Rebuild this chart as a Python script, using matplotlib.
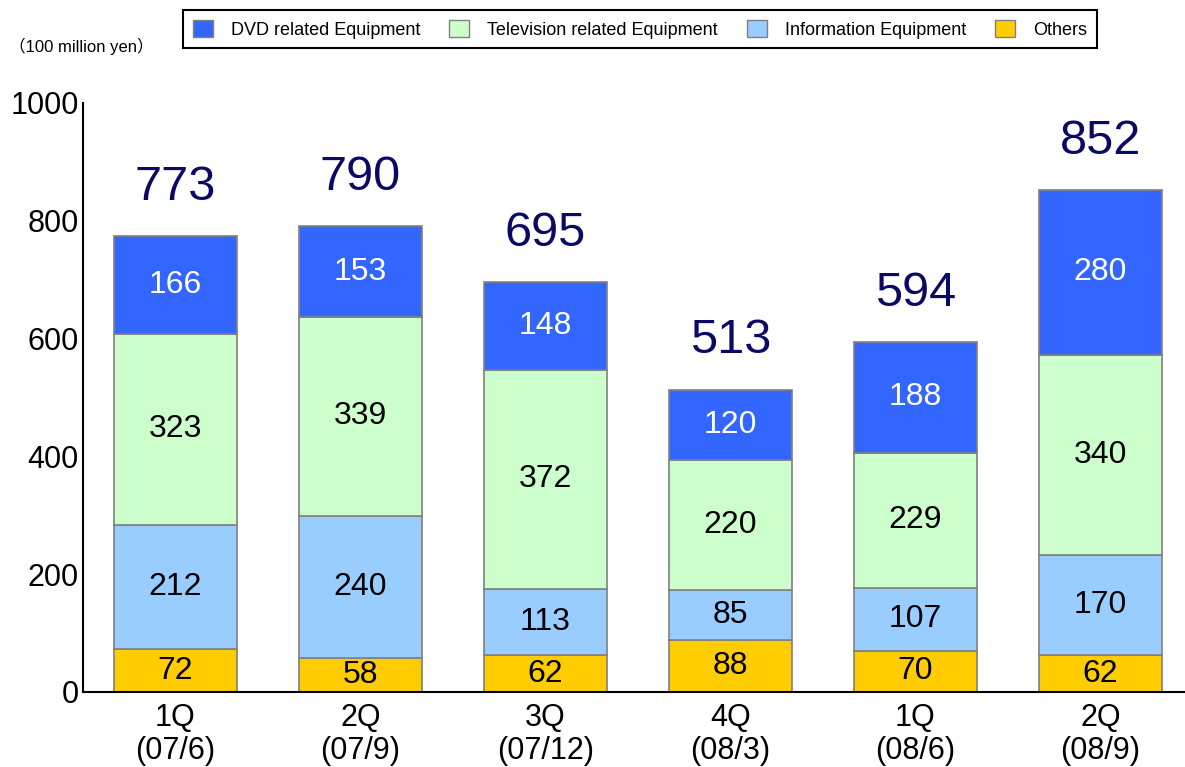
import matplotlib.pyplot as plt
import numpy as np
from matplotlib.patches import Patch

quarters = ['1Q\n(07/6)', '2Q\n(07/9)', '3Q\n(07/12)', '4Q\n(08/3)', '1Q\n(08/6)', '2Q\n(08/9)']
others = [72, 58, 62, 88, 70, 62]
info = [212, 240, 113, 85, 107, 170]
tv = [323, 339, 372, 220, 229, 340]
dvd = [166, 153, 148, 120, 188, 280]

series = [
    ('Others', others, '#FFCC00', 'black'),
    ('Information Equipment', info, '#99CCFF', 'black'),
    ('Television related Equipment', tv, '#CCFFCC', 'black'),
    ('DVD related Equipment', dvd, '#3366FF', 'white'),
]

plt.rcParams['font.family'] = ['Liberation Sans', 'DejaVu Sans']

fig = plt.figure(figsize=(11.85, 7.67), dpi=100)
ax = fig.add_axes([0.070, 0.098, 0.930, 0.768])

x = np.arange(len(quarters))
bottom = np.zeros(len(quarters))
for name, vals, color, tcolor in series:
    vals = np.array(vals)
    ax.bar(x, vals, 0.66, bottom=bottom, color=color, edgecolor='#808080', linewidth=1.2)
    for xi, b, v in zip(x, bottom, vals):
        ax.text(xi, b + v / 2, str(v), ha='center', va='center', fontsize=23, color=tcolor)
    bottom = bottom + vals

for xi, total in zip(x, bottom):
    ax.annotate(str(int(total)), (xi, total), xytext=(0, 19), textcoords='offset points',
                ha='center', va='bottom', fontsize=35, color='#0A0A66')

ax.set_xlim(-0.5, 5.457)
ax.set_ylim(0, 1000)
ax.set_yticks([0, 200, 400, 600, 800, 1000])
ax.set_xticks(x)
ax.set_xticklabels(quarters, linespacing=1.15)
ax.tick_params(length=0, labelsize=22)
ax.tick_params(axis='y', pad=3)
ax.tick_params(axis='x', pad=8)
for s in ['top', 'right']:
    ax.spines[s].set_visible(False)
for s in ['left', 'bottom']:
    ax.spines[s].set_color('black')
    ax.spines[s].set_linewidth(1.5)

fig.text(0.008, 0.94, '（100 million yen）', fontsize=12, ha='left', va='center',
         family=['Liberation Sans', 'Noto Sans CJK JP'])

handles = [Patch(facecolor=c, edgecolor='#808080') for _, _, c, _ in series[::-1]]
labels = [n for n, _, _, _ in series[::-1]]
leg = fig.legend(handles, labels, loc='center', bbox_to_anchor=(0.540, 0.962), ncol=4,
                 fancybox=False, edgecolor='black', framealpha=1, handlelength=1.1,
                 handleheight=1.1, columnspacing=1.6, handletextpad=1.0,
                 borderpad=0.55, prop={'size': 13})
leg.get_frame().set_linewidth(1.5)

fig.savefig('out.png', dpi=100)
